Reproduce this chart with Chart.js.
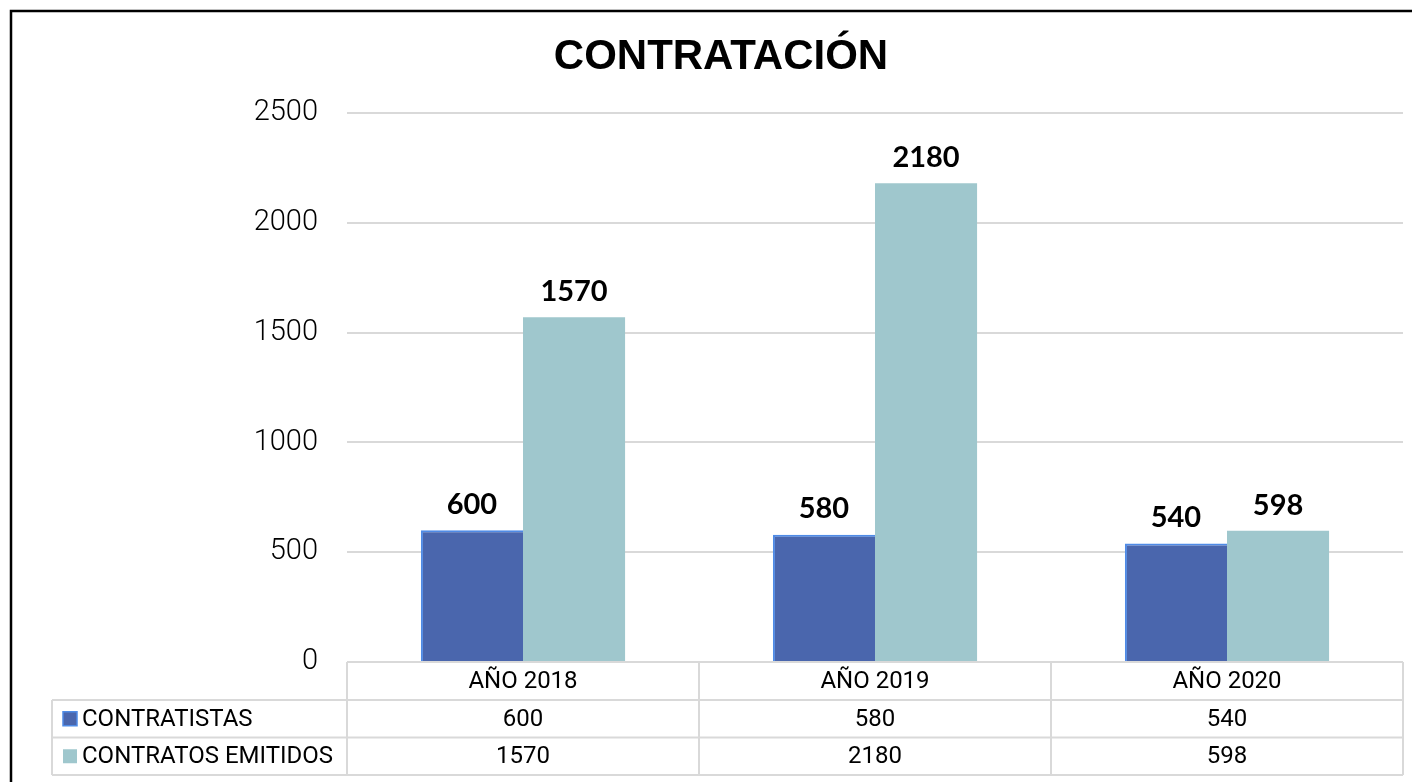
<!DOCTYPE html>
<html>
<head>
<meta charset="utf-8">
<script src="https://cdn.jsdelivr.net/npm/chart.js@4"></script>
<style>
  html, body { margin: 0; padding: 0; background: #fff; }
  #wrap { width: 1412px; height: 782px; }
</style>
</head>
<body>
<div id="wrap"><canvas id="chart" width="1412" height="782"></canvas></div>
<script>
// datos del grafico
const categorias = ['AÑO 2018', 'AÑO 2019', 'AÑO 2020'];
const contratistas = [600, 580, 540];
const contratosEmitidos = [1570, 2180, 598];
const nombresSeries = ['CONTRATISTAS', 'CONTRATOS EMITIDOS'];
const titulo = 'CONTRATACIÓN';

const FUENTE = 'Roboto, "Liberation Sans", sans-serif';
const FUENTE_BOLD = 'Lato, "Open Sans", sans-serif';
const colores = {
    azul: '#4a66ad',
    azulBorde: '#4f8be6',
    verde: '#9fc7cd',
    grid: '#d9d9d9'
};

// plugin para el marco, titulo, etiquetas y la tabla de datos
const extras = {
    id: 'extras',
    beforeDraw(chart) {
        const ctx = chart.ctx;
        ctx.save();
        ctx.fillStyle = '#fff';
        ctx.fillRect(0, 0, chart.width, chart.height);
        ctx.restore();
    },
    afterDatasetsDraw(chart) {
        const ctx = chart.ctx;
        ctx.save();
        ctx.font = 'bold 29px ' + FUENTE_BOLD;
        ctx.fillStyle = '#000';
        ctx.textAlign = 'center';
        ctx.textBaseline = 'bottom';
        chart.data.datasets.forEach((ds, i) => {
            chart.getDatasetMeta(i).data.forEach((bar, j) => {
                ctx.fillText(ds.data[j], bar.x, bar.y - 11);
            });
        });
        ctx.restore();
    },
    afterDraw(chart) {
        const ctx = chart.ctx;
        const area = chart.chartArea;
        const xs = chart.scales.x;
        ctx.save();

        // titulo
        ctx.font = 'bold 42px "Liberation Sans", Arial, sans-serif';
        ctx.fillStyle = '#000';
        ctx.textAlign = 'center';
        ctx.textBaseline = 'middle';
        ctx.fillText(titulo, 721, 57);

        // tabla de datos
        const filas = [area.bottom, 700, 737.5, 775];
        const izq = 52;
        const colW = (area.right - area.left) / categorias.length;
        ctx.strokeStyle = colores.grid;
        ctx.lineWidth = 2;
        ctx.beginPath();
        // lineas horizontales
        ctx.moveTo(area.left, filas[0]); ctx.lineTo(area.right, filas[0]);
        for (let r = 1; r < filas.length; r++) {
            ctx.moveTo(izq, filas[r]); ctx.lineTo(area.right, filas[r]);
        }
        // lineas verticales
        ctx.moveTo(izq, filas[1]); ctx.lineTo(izq, filas[3]);
        for (let c = 0; c <= categorias.length; c++) {
            const x = area.left + c * colW;
            ctx.moveTo(x, filas[0]); ctx.lineTo(x, filas[3]);
        }
        ctx.stroke();

        ctx.font = '24px ' + FUENTE;
        ctx.fillStyle = '#000';
        ctx.textAlign = 'center';
        ctx.textBaseline = 'middle';
        categorias.forEach((cat, j) => {
            const cx = xs.getPixelForValue(j);
            ctx.fillText(cat, cx, (filas[0] + filas[1]) / 2 + 1);
            chart.data.datasets.forEach((ds, i) => {
                ctx.fillText(ds.data[j], cx, (filas[i + 1] + filas[i + 2]) / 2 + 1);
            });
        });

        // leyenda dentro de la tabla
        ctx.textAlign = 'left';
        chart.data.datasets.forEach((ds, i) => {
            const cy = (filas[i + 1] + filas[i + 2]) / 2;
            ctx.fillStyle = ds.backgroundColor;
            ctx.fillRect(63, cy - 7, 14, 14);
            if (i === 0) {
                ctx.strokeStyle = colores.azulBorde;
                ctx.lineWidth = 1.5;
                ctx.strokeRect(63, cy - 7, 14, 14);
            }
            ctx.fillStyle = '#000';
            ctx.fillText(ds.label, 82, cy + 1);
        });

        // marco exterior
        ctx.strokeStyle = '#000';
        ctx.lineWidth = 2.5;
        ctx.strokeRect(11, 11, 1420, 800);
        ctx.restore();
    }
};

const config = {
    type: 'bar',
    data: {
        labels: categorias,
        datasets: [
            {
                label: nombresSeries[0],
                data: contratistas,
                backgroundColor: colores.azul,
                borderColor: colores.azulBorde,
                borderWidth: { top: 2, left: 2, right: 0, bottom: 0 },
                borderSkipped: false
            },
            {
                label: nombresSeries[1],
                data: contratosEmitidos,
                backgroundColor: colores.verde,
                borderWidth: 0
            }
        ]
    },
    options: {
        responsive: false,
        animation: false,
        layout: { padding: { top: 113, left: 0, right: 9, bottom: 120 } },
        datasets: { bar: { categoryPercentage: 0.58, barPercentage: 1.0 } },
        plugins: {
            legend: { display: false },
            title: { display: false },
            tooltip: { enabled: false }
        },
        scales: {
            x: { display: false },
            y: {
                min: 0,
                max: 2500,
                border: { display: false },
                grid: { color: colores.grid, lineWidth: 2, drawTicks: false },
                ticks: {
                    stepSize: 500,
                    padding: 29,
                    color: '#000',
                    font: { family: FUENTE, size: 29, weight: '300' },
                    callback: v => String(v)
                },
                afterFit(scale) { scale.width = 347; }
            }
        }
    },
    plugins: [extras]
};

new Chart(document.getElementById('chart'), config);
</script>
</body>
</html>
